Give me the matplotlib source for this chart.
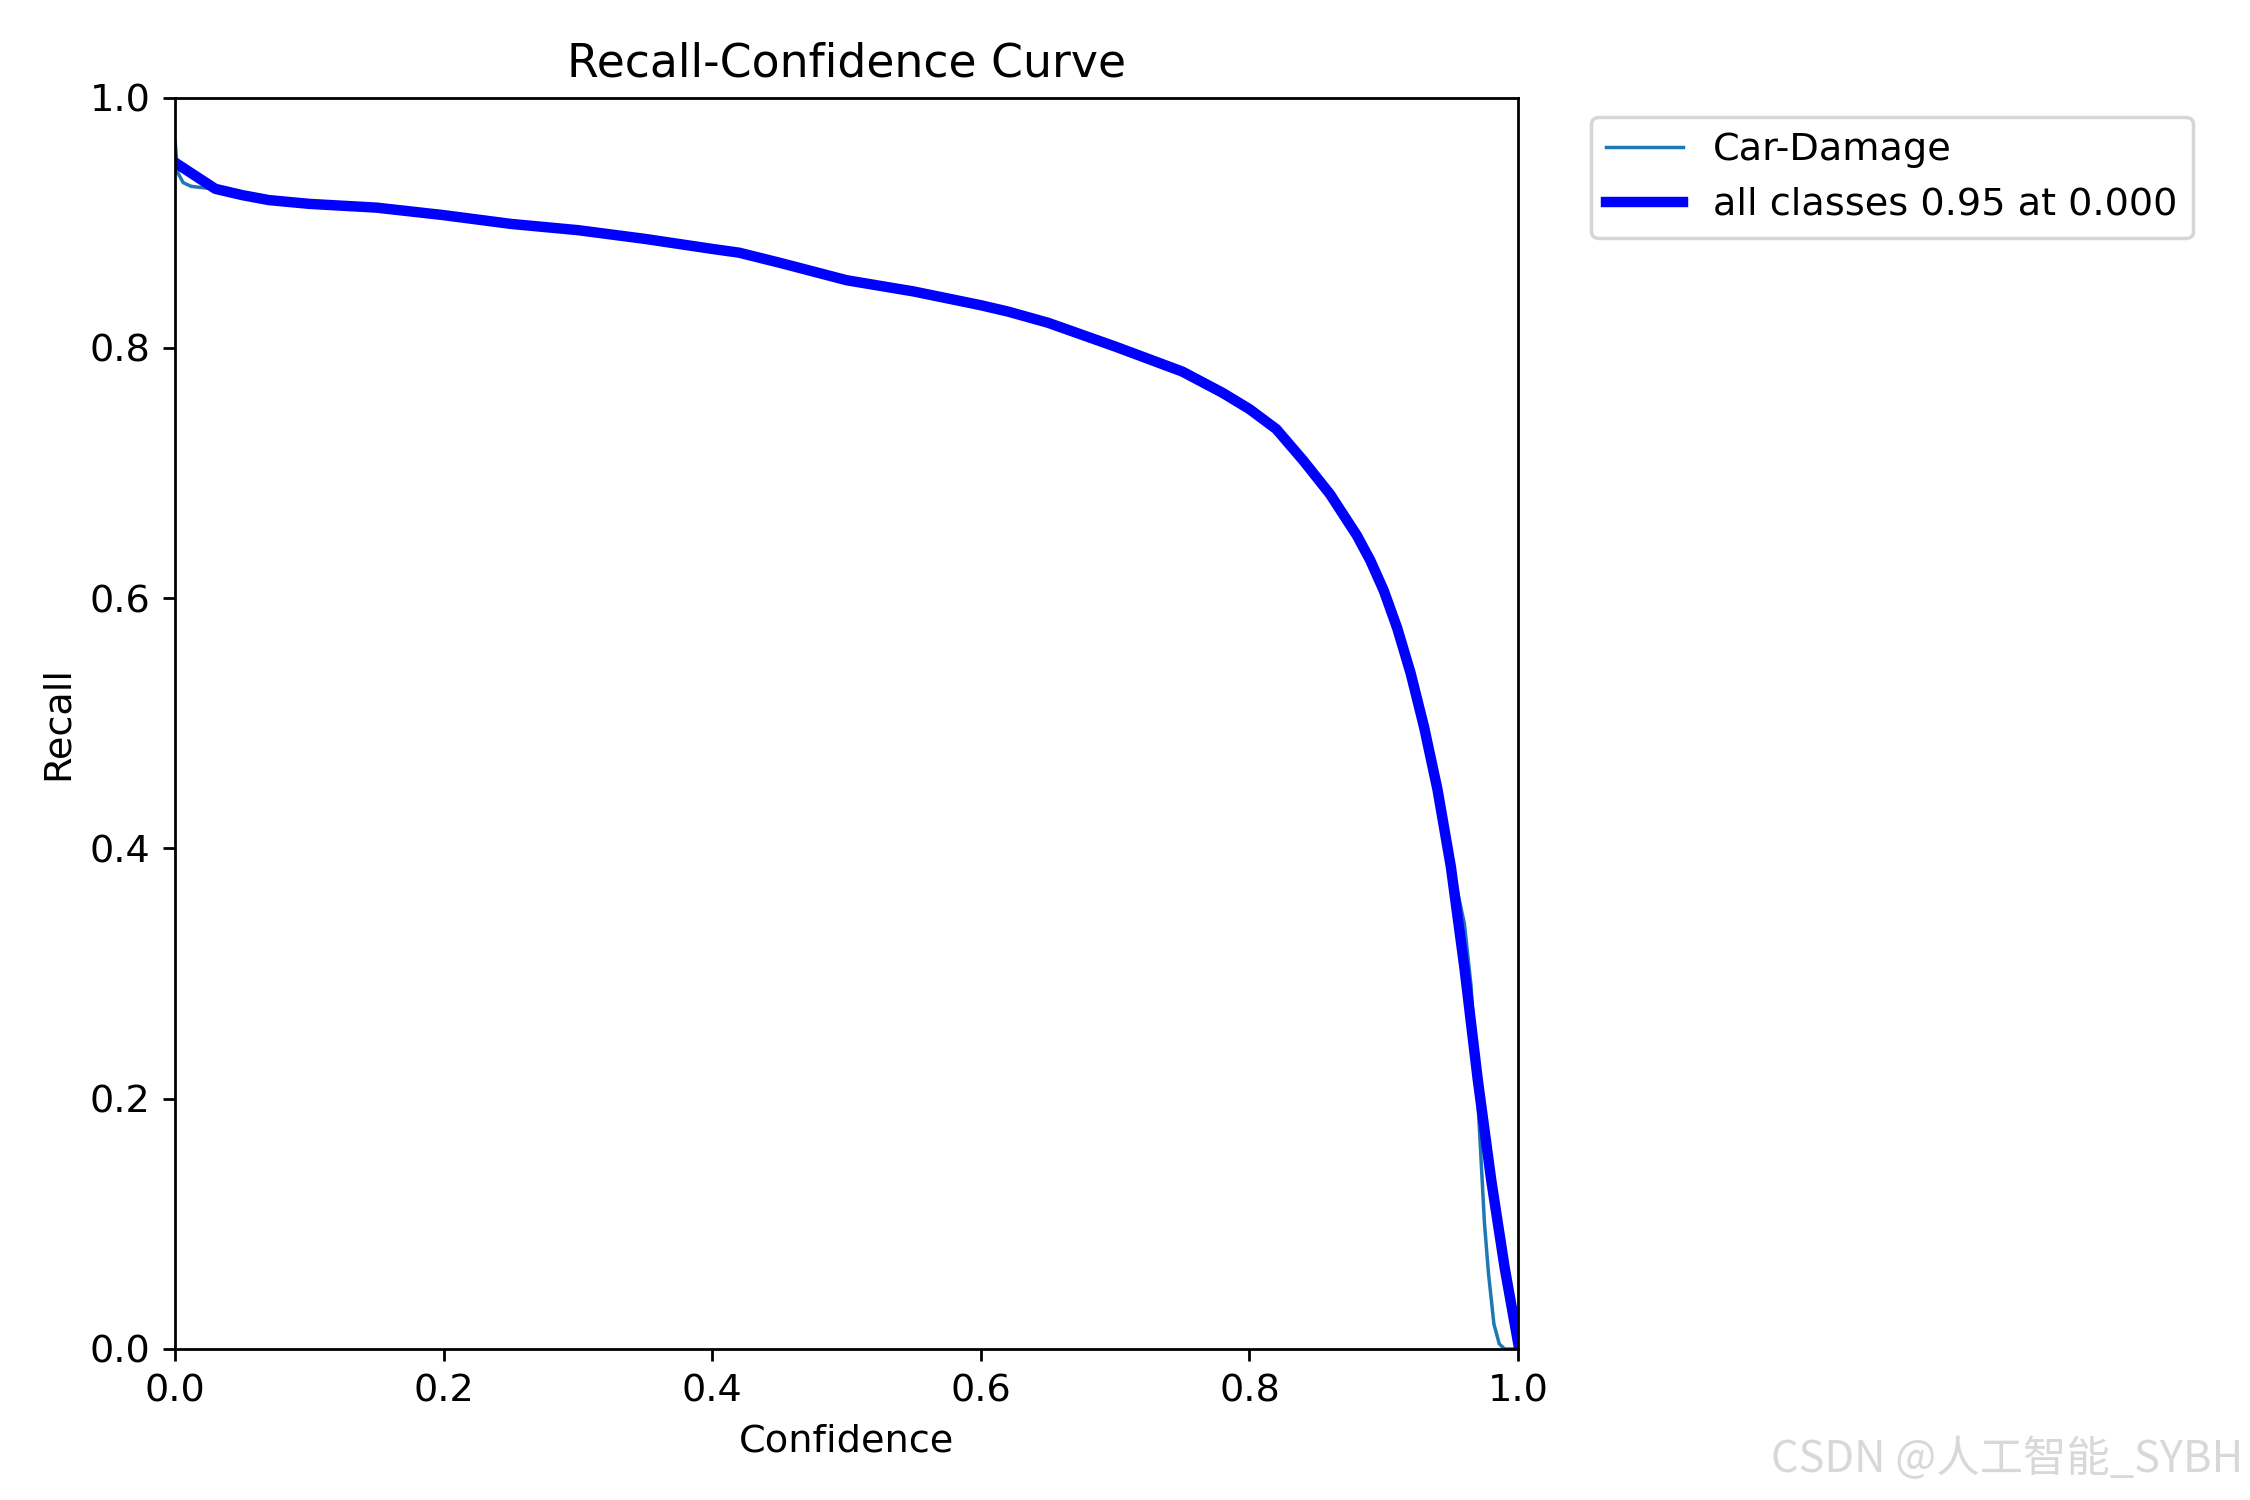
import matplotlib.pyplot as plt

plt.rcParams['font.size'] = 11

# confidence / recall values
conf_all = [0.0, 0.03, 0.05, 0.07, 0.1, 0.15, 0.2, 0.25, 0.3, 0.35, 0.4, 0.42, 0.45,
            0.5, 0.55, 0.6, 0.62, 0.65, 0.7, 0.75, 0.78, 0.8, 0.82, 0.84, 0.86, 0.88,
            0.89, 0.9, 0.91, 0.92, 0.93, 0.94, 0.95, 0.96, 0.97, 0.98, 0.99, 1.0]
recall_all = [0.948, 0.927, 0.922, 0.918, 0.915, 0.912, 0.906, 0.899, 0.894, 0.887,
              0.879, 0.876, 0.868, 0.854, 0.845, 0.834, 0.829, 0.820, 0.801, 0.781,
              0.764, 0.751, 0.735, 0.710, 0.683, 0.650, 0.630, 0.606, 0.576, 0.540,
              0.497, 0.447, 0.385, 0.305, 0.215, 0.135, 0.065, 0.005]

conf_car = [0.0, 0.002, 0.006, 0.012, 0.02, 0.03, 0.05, 0.07, 0.1, 0.15, 0.2, 0.25,
            0.3, 0.35, 0.4, 0.42, 0.45, 0.5, 0.55, 0.6, 0.62, 0.65, 0.7, 0.75, 0.78,
            0.8, 0.82, 0.84, 0.86, 0.88, 0.89, 0.9, 0.91, 0.92, 0.93, 0.94, 0.95, 0.96,
            0.965, 0.97, 0.975, 0.978, 0.982, 0.986, 0.99, 1.0]
recall_car = [0.965, 0.94, 0.932, 0.929, 0.928, 0.927, 0.922, 0.918, 0.915, 0.912,
              0.906, 0.899, 0.894, 0.887, 0.879, 0.876, 0.868, 0.854, 0.845, 0.834,
              0.829, 0.820, 0.801, 0.781, 0.764, 0.751, 0.735, 0.710, 0.683, 0.650,
              0.630, 0.606, 0.576, 0.540, 0.497, 0.449, 0.39, 0.34, 0.29, 0.2, 0.1,
              0.06, 0.02, 0.004, 0.0, 0.0]

fig, ax = plt.subplots(1, 1, figsize=(9, 6), dpi=250)
fig.subplots_adjust(left=0.0778, right=0.6747, top=0.935, bottom=0.1007)

ax.plot(conf_car, recall_car, linewidth=1, label='Car-Damage')
ax.plot(conf_all, recall_all, linewidth=3, color='blue', label='all classes 0.95 at 0.000')

ax.set_xlabel('Confidence')
ax.set_ylabel('Recall')
ax.set_xlim(0, 1)
ax.set_ylim(0, 1)
ax.legend(bbox_to_anchor=(1.04, 1), loc='upper left')
ax.set_title('Recall-Confidence Curve')

# watermark
fig.text(0.997, 0.012, 'CSDN @人工智能_SYBH', ha='right', va='bottom', fontsize=12.5,
         color='#d8d8d8', family=['Noto Sans CJK SC', 'DejaVu Sans'])

fig.savefig('out.png', dpi=250)
